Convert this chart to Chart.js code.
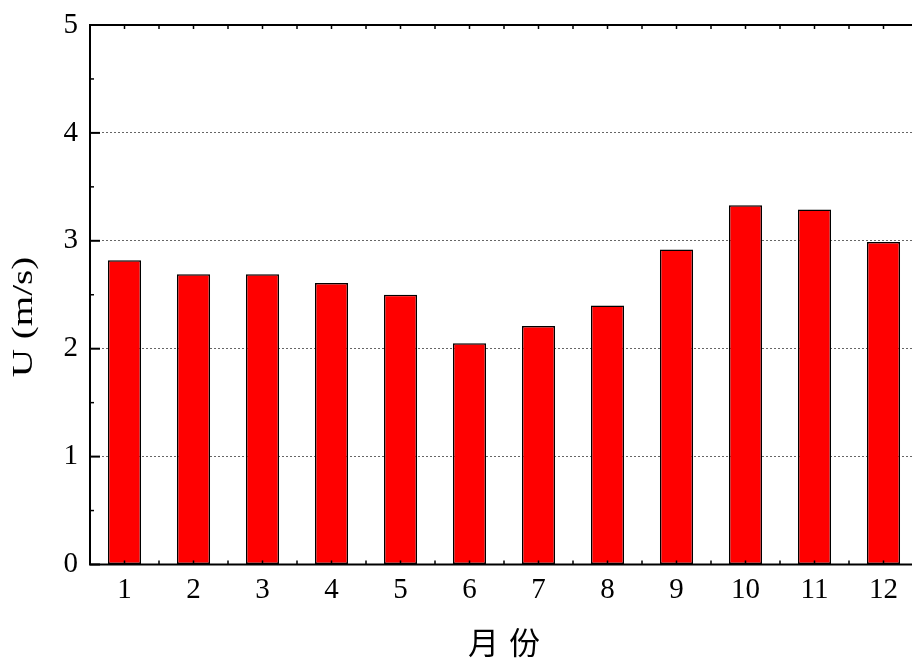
<!DOCTYPE html>
<html>
<head>
<meta charset="utf-8">
<script src="https://cdn.jsdelivr.net/npm/chart.js@4"></script>
<style>
  html, body { margin: 0; padding: 0; background: #fff; overflow: hidden; }
  #wrap { width: 940px; height: 660px; }
</style>
</head>
<body>
<div id="wrap"><canvas id="lienzo"></canvas></div>
<script>
// datos del grafico
const meses = ['1', '2', '3', '4', '5', '6', '7', '8', '9', '10', '11', '12'];
const velocidad = [2.82, 2.69, 2.69, 2.61, 2.50, 2.05, 2.21, 2.40, 2.92, 3.33, 3.29, 2.99];
const ticksY = [0, 1, 2, 3, 4, 5];
const tituloX = '月份';
const tituloY = 'U (m/s)';

const fuente = "'Liberation Serif', 'Times New Roman', serif";

// ejes, marcas hacia adentro y titulos
const marco = {
    id: 'marco',
    afterDraw(chart) {
        const ctx = chart.ctx;
        const a = chart.chartArea;
        const x = chart.scales.x;
        const y = chart.scales.y;
        ctx.save();
        ctx.strokeStyle = '#000';
        ctx.lineWidth = 2;
        ctx.beginPath();
        ctx.moveTo(a.right + 5, a.top);
        ctx.lineTo(a.left, a.top);
        ctx.lineTo(a.left, a.bottom);
        ctx.lineTo(a.right + 5, a.bottom);
        ctx.stroke();

        // marcas del eje y
        ticksY.forEach(v => {
            const py = y.getPixelForValue(v);
            ctx.beginPath();
            ctx.moveTo(a.left, py);
            ctx.lineTo(a.left + 10, py);
            ctx.stroke();
            if (v < ticksY[ticksY.length - 1]) {
                const pm = y.getPixelForValue(v + 0.5);
                ctx.lineWidth = 1.5;
                ctx.beginPath();
                ctx.moveTo(a.left, pm);
                ctx.lineTo(a.left + 4, pm);
                ctx.stroke();
                ctx.lineWidth = 2;
            }
        });

        // marcas del eje x (arriba y abajo)
        ctx.lineWidth = 1.5;
        for (let i = 0; i <= meses.length; i++) {
            const pos = [x.getPixelForValue(i) - (x.getPixelForValue(1) - x.getPixelForValue(0)) / 2];
            if (i < meses.length) pos.push(x.getPixelForValue(i));
            pos.forEach(px => {
                ctx.beginPath();
                ctx.moveTo(px, a.bottom);
                ctx.lineTo(px, a.bottom - 4);
                ctx.moveTo(px, a.top);
                ctx.lineTo(px, a.top + 4);
                ctx.stroke();
            });
        }

        // titulo eje y
        ctx.fillStyle = '#000';
        ctx.font = '29px ' + fuente;
        ctx.textAlign = 'center';
        ctx.textBaseline = 'alphabetic';
        ctx.translate(32, 317);
        ctx.rotate(-Math.PI / 2);
        ctx.scale(1.35, 1);
        ctx.fillText(tituloY, 0, 0);
        ctx.restore();

        // titulo eje x
        ctx.save();
        ctx.fillStyle = '#000';
        ctx.font = "31px 'Noto Sans CJK SC'";
        ctx.letterSpacing = '10px';
        ctx.textAlign = 'center';
        ctx.textBaseline = 'middle';
        ctx.fillText(tituloX, (a.left + a.right) / 2 + 5, 642);
        ctx.restore();
    }
};

const contexto = document.getElementById('lienzo').getContext('2d');
const grafico = new Chart(contexto, {
    type: 'bar',
    data: {
        labels: meses,
        datasets: [{
            label: tituloY,
            data: velocidad,
            backgroundColor: '#ff0000',
            borderColor: '#000000',
            borderWidth: 1.5,
            borderSkipped: false,
            categoryPercentage: 1,
            barPercentage: 0.48
        }]
    },
    options: {
        responsive: true,
        maintainAspectRatio: false,
        animation: false,
        layout: { padding: { left: 0, right: 22, top: 25, bottom: 0 } },
        plugins: {
            legend: { display: false },
            tooltip: { enabled: false }
        },
        scales: {
            x: {
                grid: { display: false, drawTicks: false },
                border: { display: false },
                ticks: { color: '#000', font: { family: fuente, size: 29 }, padding: 8, maxRotation: 0 },
                afterFit: s => { s.height = 95.5; }
            },
            y: {
                min: 0,
                max: 5,
                afterBuildTicks: s => { s.ticks = ticksY.map(v => ({ value: v })); },
                grid: {
                    drawTicks: false,
                    lineWidth: 1,
                    color: c => (c.tick && c.tick.value > 0 && c.tick.value < 5) ? '#666' : 'rgba(0,0,0,0)'
                },
                border: { display: false, dash: [2, 2] },
                ticks: { color: '#000', font: { family: fuente, size: 29, lineHeight: 0.6 }, padding: 12 },
                afterFit: s => { s.width = 90; }
            }
        }
    },
    plugins: [marco]
});
</script>
</body>
</html>
